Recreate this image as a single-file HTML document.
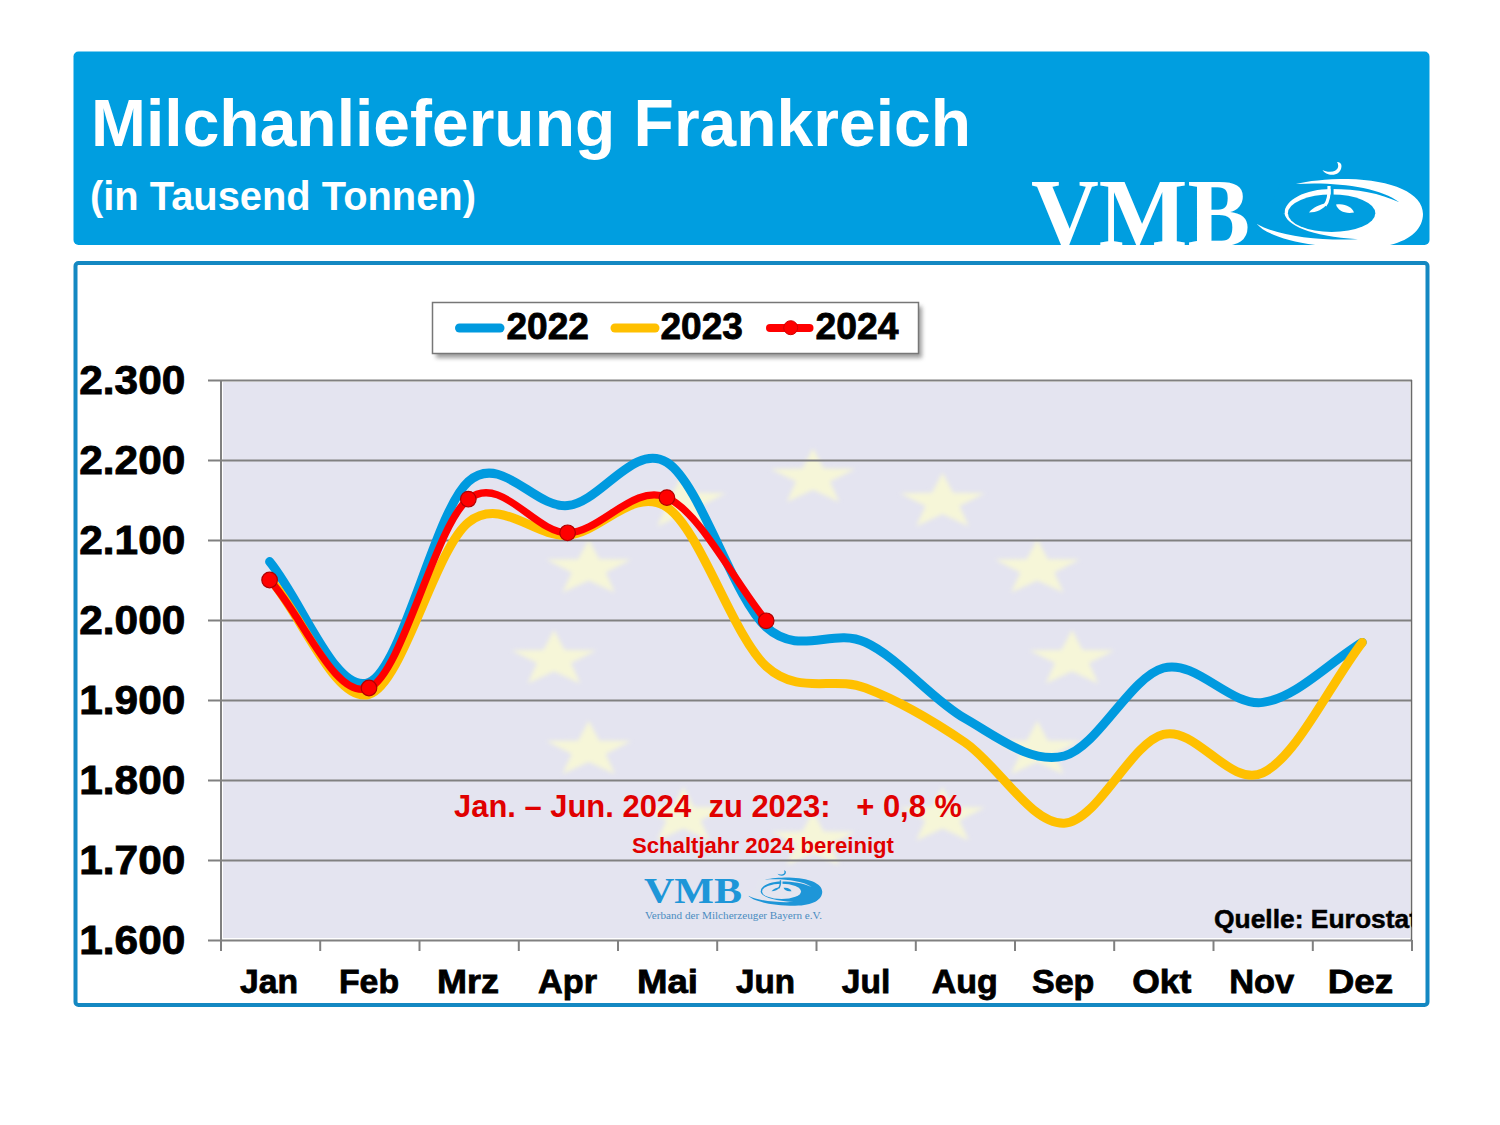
<!DOCTYPE html>
<html><head><meta charset="utf-8"><style>
html,body{margin:0;padding:0;background:#fff;width:1500px;height:1125px;overflow:hidden}
svg{display:block}
</style></head><body>
<svg width="1500" height="1125" viewBox="0 0 1500 1125">
<defs>
<filter id="blur" x="-20%" y="-20%" width="140%" height="140%"><feGaussianBlur stdDeviation="2.2"/></filter>
<filter id="shadow" x="-5%" y="-20%" width="110%" height="160%"><feGaussianBlur stdDeviation="2"/></filter>
<clipPath id="hdrclip"><rect x="73.5" y="51.5" width="1356" height="193.5" rx="5"/></clipPath>
<clipPath id="plotclip"><rect x="221" y="380" width="1191" height="560"/></clipPath>
</defs>
<!-- header -->
<rect x="73.5" y="51.5" width="1356" height="193.5" rx="5" fill="#009EE0"/>
<g font-family="Liberation Sans, sans-serif" font-weight="bold" fill="#fff">
<text x="91" y="146" font-size="67" textLength="880" lengthAdjust="spacingAndGlyphs">Milchanlieferung Frankreich</text>
<text x="90" y="209.5" font-size="40" textLength="386" lengthAdjust="spacingAndGlyphs">(in Tausend Tonnen)</text>
</g>
<g clip-path="url(#hdrclip)">
<text x="1031" y="245.5" font-family="Liberation Serif, serif" font-weight="bold" font-size="98" fill="#fff" textLength="219" lengthAdjust="spacingAndGlyphs">VMB</text>
<g transform="">
<path fill="#fff" d="M1257,224 C1266,236 1305,248 1362,248 C1402,248 1423,233 1423,214 C1423,193 1392,180 1348,179 C1325,179 1308,181 1296,184 C1290,190 1284.5,200 1284.5,213.2 L1257,224 Z"/>
<path fill="#009EE0" d="M1296,184 C1335,181.5 1380,187 1399.3,202.3 C1380,193 1357,188.9 1331.6,188.9 C1305,188.9 1284.5,200 1284.5,213.2 L1268,213.2 L1280,184 Z"/>
<path fill="#009EE0" d="M1284.5,213.2 C1286,225 1310,236 1358,239.2 C1320,241 1278,236 1257,224 L1250,224 L1250,213.2 Z"/>
<ellipse fill="#009EE0" cx="1331.6" cy="213.2" rx="43.7" ry="18.8"/>
<path fill="#009EE0" d="M1330.6,186 L1333.6,186 L1333.6,196 L1330.6,196 Z"/>
<path fill="none" stroke="#fff" stroke-width="3.2" d="M1329,186 C1329.5,195 1328.5,201 1325,205.5"/>
<path fill="#fff" d="M1309,212.5 C1313,207 1320,204.5 1327.5,203 C1324,209.5 1316,212.5 1309,212.5 Z"/>
<path fill="#fff" d="M1336,204.5 C1345,203 1352,207 1354,212.5 C1345,214 1338,211 1336,204.5 Z"/>
<path fill="#fff" d="M1322.5,170 C1326,176.5 1341,177.5 1341.5,166 C1341.5,163.5 1339.5,162 1337,162 C1339.5,166 1338.5,171.5 1330,171.8 C1327,171.8 1324.5,171.2 1322.5,170 Z"/>
</g>
</g>
<!-- chart box -->
<rect x="75.5" y="263" width="1352" height="742" rx="3" fill="#fff" stroke="#1488C2" stroke-width="4"/>
<!-- plot area -->
<rect x="223" y="382" width="1187" height="556" fill="#E4E4F0"/>
<g clip-path="url(#plotclip)" fill="#F6F6D8" filter="url(#blur)"><polygon points="813.0,448.5 823.5,468.5 855.3,468.9 829.9,481.6 839.2,501.9 813.0,489.8 786.8,501.9 796.1,481.6 770.7,468.9 802.5,468.5"/><polygon points="942.5,472.8 953.0,492.8 984.8,493.2 959.4,506.0 968.7,526.2 942.5,514.1 916.3,526.2 925.6,506.0 900.2,493.2 932.0,492.8"/><polygon points="1037.3,539.2 1047.8,559.2 1079.6,559.6 1054.2,572.4 1063.5,592.6 1037.3,580.5 1011.1,592.6 1020.4,572.4 995.0,559.6 1026.8,559.2"/><polygon points="1072.0,630.0 1082.5,650.0 1114.3,650.4 1088.9,663.1 1098.2,683.4 1072.0,671.3 1045.8,683.4 1055.1,663.1 1029.7,650.4 1061.5,650.0"/><polygon points="1037.3,720.8 1047.8,740.7 1079.6,741.1 1054.2,753.9 1063.5,774.1 1037.3,762.0 1011.1,774.1 1020.4,753.9 995.0,741.1 1026.8,740.7"/><polygon points="942.5,787.2 953.0,807.1 984.8,807.6 959.4,820.3 968.7,840.5 942.5,828.5 916.3,840.5 925.6,820.3 900.2,807.6 932.0,807.1"/><polygon points="813.0,811.5 823.5,831.5 855.3,831.9 829.9,844.6 839.2,864.9 813.0,852.8 786.8,864.9 796.1,844.6 770.7,831.9 802.5,831.5"/><polygon points="683.5,787.2 694.0,807.1 725.8,807.6 700.4,820.3 709.7,840.5 683.5,828.5 657.3,840.5 666.6,820.3 641.2,807.6 673.0,807.1"/><polygon points="588.7,720.8 599.2,740.7 631.0,741.1 605.6,753.9 614.9,774.1 588.7,762.0 562.5,774.1 571.8,753.9 546.4,741.1 578.2,740.7"/><polygon points="554.0,630.0 564.5,650.0 596.3,650.4 570.9,663.1 580.2,683.4 554.0,671.3 527.8,683.4 537.1,663.1 511.7,650.4 543.5,650.0"/><polygon points="588.7,539.2 599.2,559.2 631.0,559.6 605.6,572.4 614.9,592.6 588.7,580.5 562.5,592.6 571.8,572.4 546.4,559.6 578.2,559.2"/><polygon points="683.5,472.8 694.0,492.8 725.8,493.2 700.4,506.0 709.7,526.2 683.5,514.1 657.3,526.2 666.6,506.0 641.2,493.2 673.0,492.8"/></g>
<g stroke="#808080" stroke-width="2"><line x1="208" y1="380.4" x2="1412" y2="380.4"/><line x1="208" y1="460.4" x2="1412" y2="460.4"/><line x1="208" y1="540.4" x2="1412" y2="540.4"/><line x1="208" y1="620.4" x2="1412" y2="620.4"/><line x1="208" y1="700.4" x2="1412" y2="700.4"/><line x1="208" y1="780.4" x2="1412" y2="780.4"/><line x1="208" y1="860.4" x2="1412" y2="860.4"/><line x1="208" y1="940.4" x2="1412" y2="940.4"/>
<line x1="221" y1="380" x2="221" y2="951"/>
<line x1="221.0" y1="940" x2="221.0" y2="951"/><line x1="320.2" y1="940" x2="320.2" y2="951"/><line x1="419.5" y1="940" x2="419.5" y2="951"/><line x1="518.8" y1="940" x2="518.8" y2="951"/><line x1="618.0" y1="940" x2="618.0" y2="951"/><line x1="717.2" y1="940" x2="717.2" y2="951"/><line x1="816.5" y1="940" x2="816.5" y2="951"/><line x1="915.8" y1="940" x2="915.8" y2="951"/><line x1="1015.0" y1="940" x2="1015.0" y2="951"/><line x1="1114.2" y1="940" x2="1114.2" y2="951"/><line x1="1213.5" y1="940" x2="1213.5" y2="951"/><line x1="1312.8" y1="940" x2="1312.8" y2="951"/><line x1="1412.0" y1="940" x2="1412.0" y2="951"/></g>
<line x1="1411.5" y1="380" x2="1411.5" y2="940" stroke="#6a6a6a" stroke-width="1.5"/>
<!-- y labels -->
<g font-family="Liberation Sans, sans-serif" font-weight="bold" font-size="40.5" fill="#000" stroke="#000" stroke-width="0.9"><text x="79.3" y="393.5" textLength="106" lengthAdjust="spacingAndGlyphs">2.300</text><text x="79.3" y="473.5" textLength="106" lengthAdjust="spacingAndGlyphs">2.200</text><text x="79.3" y="553.5" textLength="106" lengthAdjust="spacingAndGlyphs">2.100</text><text x="79.3" y="633.5" textLength="106" lengthAdjust="spacingAndGlyphs">2.000</text><text x="79.3" y="713.5" textLength="106" lengthAdjust="spacingAndGlyphs">1.900</text><text x="79.3" y="793.5" textLength="106" lengthAdjust="spacingAndGlyphs">1.800</text><text x="79.3" y="873.5" textLength="106" lengthAdjust="spacingAndGlyphs">1.700</text><text x="79.3" y="953.5" textLength="106" lengthAdjust="spacingAndGlyphs">1.600</text></g>
<g font-family="Liberation Sans, sans-serif" font-weight="bold" font-size="33.5" fill="#000" stroke="#000" stroke-width="0.8"><text x="240.00" y="993" textLength="58.00" lengthAdjust="spacingAndGlyphs">Jan</text><text x="339.00" y="993" textLength="60.00" lengthAdjust="spacingAndGlyphs">Feb</text><text x="437.00" y="993" textLength="62.00" lengthAdjust="spacingAndGlyphs">Mrz</text><text x="538.00" y="993" textLength="59.00" lengthAdjust="spacingAndGlyphs">Apr</text><text x="637.00" y="993" textLength="61.00" lengthAdjust="spacingAndGlyphs">Mai</text><text x="736.00" y="993" textLength="59.00" lengthAdjust="spacingAndGlyphs">Jun</text><text x="841.80" y="993" textLength="48.40" lengthAdjust="spacingAndGlyphs">Jul</text><text x="931.80" y="993" textLength="66.00" lengthAdjust="spacingAndGlyphs">Aug</text><text x="1032.00" y="993" textLength="62.40" lengthAdjust="spacingAndGlyphs">Sep</text><text x="1132.20" y="993" textLength="59.20" lengthAdjust="spacingAndGlyphs">Okt</text><text x="1229.20" y="993" textLength="65.00" lengthAdjust="spacingAndGlyphs">Nov</text><text x="1327.80" y="993" textLength="65.40" lengthAdjust="spacingAndGlyphs">Dez</text></g>
<!-- legend -->
<rect x="436" y="306.5" width="486" height="51.5" fill="#777" opacity="0.7" filter="url(#shadow)"/>
<rect x="432.5" y="302.5" width="486" height="51" fill="#fff" stroke="#777" stroke-width="1.5"/>
<g stroke-linecap="round" stroke-width="9">
<line x1="459.5" y1="328" x2="500" y2="328" stroke="#009ADF"/>
<line x1="615" y1="328" x2="655" y2="328" stroke="#FFC000"/>
<line x1="770" y1="328" x2="809.5" y2="328" stroke="#FF0000" stroke-width="8"/>
</g>
<circle cx="790.7" cy="327.7" r="7" fill="#FF0000" stroke="#D00000" stroke-width="1"/>
<g font-family="Liberation Sans, sans-serif" font-weight="bold" font-size="36.5" fill="#000" stroke="#000" stroke-width="0.8">
<text x="506.5" y="339.2" textLength="82.5" lengthAdjust="spacingAndGlyphs">2022</text>
<text x="660.5" y="339.2" textLength="82.5" lengthAdjust="spacingAndGlyphs">2023</text>
<text x="815.5" y="339.2" textLength="83" lengthAdjust="spacingAndGlyphs">2024</text>
</g>
<!-- annotation -->
<g font-family="Liberation Sans, sans-serif" font-weight="bold" fill="#E00000">
<text x="454" y="817" font-size="32" xml:space="preserve" style="white-space:pre" textLength="508" lengthAdjust="spacingAndGlyphs">Jan. – Jun. 2024  zu 2023:   + 0,8 %</text>
<text x="632" y="853" font-size="22.5" textLength="262" lengthAdjust="spacingAndGlyphs">Schaltjahr 2024 bereinigt</text>
</g>
<text x="644" y="902.5" font-family="Liberation Serif, serif" font-weight="bold" font-size="35" fill="#1E96D8" textLength="98" lengthAdjust="spacingAndGlyphs">VMB</text>
<text x="645" y="918.5" font-family="Liberation Serif, serif" font-size="10.5" fill="#4A8CC0" textLength="177" lengthAdjust="spacingAndGlyphs">Verband der Milcherzeuger Bayern e.V.</text>
<g transform="matrix(0.445,0,0,0.41,189,804)">
<path fill="#1E96D8" d="M1257,224 C1266,236 1305,248 1362,248 C1402,248 1423,233 1423,214 C1423,193 1392,180 1348,179 C1325,179 1308,181 1296,184 C1290,190 1284.5,200 1284.5,213.2 L1257,224 Z"/>
<path fill="#E4E5EF" d="M1296,184 C1335,181.5 1380,187 1399.3,202.3 C1380,193 1357,188.9 1331.6,188.9 C1305,188.9 1284.5,200 1284.5,213.2 L1268,213.2 L1280,184 Z"/>
<path fill="#E4E5EF" d="M1284.5,213.2 C1286,225 1310,236 1358,239.2 C1320,241 1278,236 1257,224 L1250,224 L1250,213.2 Z"/>
<ellipse fill="#E4E5EF" cx="1331.6" cy="213.2" rx="43.7" ry="18.8"/>
<path fill="#E4E5EF" d="M1330.6,186 L1333.6,186 L1333.6,196 L1330.6,196 Z"/>
<path fill="none" stroke="#1E96D8" stroke-width="3.2" d="M1329,186 C1329.5,195 1328.5,201 1325,205.5"/>
<path fill="#1E96D8" d="M1309,212.5 C1313,207 1320,204.5 1327.5,203 C1324,209.5 1316,212.5 1309,212.5 Z"/>
<path fill="#1E96D8" d="M1336,204.5 C1345,203 1352,207 1354,212.5 C1345,214 1338,211 1336,204.5 Z"/>
<path fill="#1E96D8" d="M1322.5,170 C1326,176.5 1341,177.5 1341.5,166 C1341.5,163.5 1339.5,162 1337,162 C1339.5,166 1338.5,171.5 1330,171.8 C1327,171.8 1324.5,171.2 1322.5,170 Z"/>
</g>
<text x="1214" y="928" clip-path="url(#plotclip)" font-family="Liberation Sans, sans-serif" font-weight="bold" font-size="26.5" fill="#000" stroke="#000" stroke-width="0.5" textLength="204" lengthAdjust="spacingAndGlyphs">Quelle: Eurostat</text>
<!-- curves -->
<g fill="none" stroke-linecap="round" stroke-linejoin="round">
<path d="M269.6,561.6 C302.8,601.9 335.9,695.7 369.0,682.4 C402.1,669.1 435.2,511.1 468.3,481.6 C501.4,452.1 534.5,508.8 567.6,505.6 C600.7,502.4 633.8,442.1 666.9,462.4 C700.0,482.7 733.1,597.2 766.2,627.2 C799.4,657.2 832.5,627.2 865.6,642.4 C898.7,657.6 931.8,699.5 964.9,718.4 C998.0,737.3 1031.1,764.4 1064.2,756.0 C1097.3,747.6 1130.4,676.9 1163.5,668.0 C1196.6,659.1 1229.7,706.7 1262.8,702.4 C1296.0,698.1 1329.1,662.4 1362.2,642.4" stroke="#009ADF" stroke-width="9"/>
<path d="M269.6,578.4 C302.8,617.1 335.9,703.7 369.0,694.4 C402.1,685.1 435.2,548.9 468.3,522.4 C501.4,495.9 534.5,537.7 567.6,535.2 C600.7,532.7 633.8,485.3 666.9,507.2 C700.0,529.1 733.1,636.3 766.2,666.4 C799.4,696.5 832.5,675.3 865.6,688.0 C898.7,700.7 931.8,719.9 964.9,742.4 C998.0,764.9 1031.1,824.5 1064.2,823.2 C1097.3,821.9 1130.4,742.8 1163.5,734.4 C1196.6,726.0 1229.7,788.1 1262.8,772.8 C1296.0,757.5 1329.1,685.9 1362.2,642.4" stroke="#FFC000" stroke-width="9"/>
<path d="M269.6,580.0 C302.8,616.0 335.9,701.5 369.0,688.0 C402.1,674.5 435.2,525.1 468.3,499.2 C501.4,473.3 534.5,533.1 567.6,532.8 C600.7,532.5 633.8,482.9 666.9,497.6 C700.0,512.3 733.1,579.7 766.2,620.8" stroke="#FF0000" stroke-width="7.3"/>
</g>
<g fill="#FF0000" stroke="#B00000" stroke-width="1.2"><circle cx="269.6" cy="580.0" r="7.8"/><circle cx="369.0" cy="688.0" r="7.8"/><circle cx="468.3" cy="499.2" r="7.8"/><circle cx="567.6" cy="532.8" r="7.8"/><circle cx="666.9" cy="497.6" r="7.8"/><circle cx="766.2" cy="620.8" r="7.8"/></g>
</svg>
</body></html>
